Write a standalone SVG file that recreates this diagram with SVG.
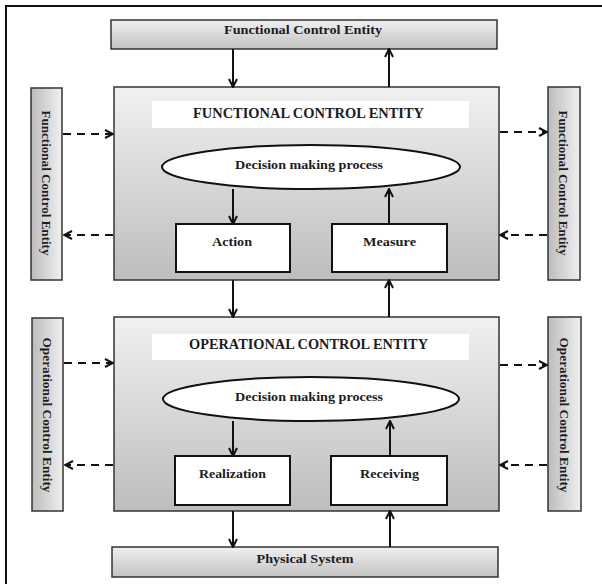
<svg xmlns="http://www.w3.org/2000/svg" width="602" height="584" viewBox="0 0 602 584">
<style>
.t{font-family:"Liberation Serif","Times New Roman",serif;font-weight:bold;fill:#1c1c24;text-anchor:middle}
.s12{font-size:13px}
.s13{font-size:14px}
.main{fill:url(#gV);stroke:#333;stroke-width:1.5}
.bar{fill:url(#gB);stroke:#333;stroke-width:1.5}
.side{fill:url(#gH);stroke:#333;stroke-width:1.5}
.wb{fill:#fff;stroke:#111;stroke-width:2}
.hdr{fill:#fff}
.c{fill:none;stroke:#111;stroke-width:2;marker-end:url(#arr)}
.d{stroke-dasharray:8 6}
</style>
<defs>
<linearGradient id="gV" x1="0" y1="0" x2="0" y2="1"><stop offset="0" stop-color="#f1f1f1"/><stop offset="1" stop-color="#bdbdbd"/></linearGradient>
<linearGradient id="gB" x1="0" y1="0" x2="0" y2="1"><stop offset="0" stop-color="#f0f0f0"/><stop offset="1" stop-color="#c2c2c2"/></linearGradient>
<linearGradient id="gH" x1="0" y1="0" x2="1" y2="0"><stop offset="0" stop-color="#bcbcbc"/><stop offset="1" stop-color="#f0f0f0"/></linearGradient>
<marker id="arr" viewBox="0 0 10 10" refX="9" refY="5" markerWidth="10" markerHeight="10" markerUnits="userSpaceOnUse" orient="auto"><path d="M1,1 L9,5 L1,9" fill="none" stroke="#111" stroke-width="2"/></marker>
</defs>
<rect width="602" height="584" fill="#fff"/>
<path d="M6,584 V6 H602" fill="none" stroke="#111" stroke-width="2"/>

<g id="top-fce">
<rect class="bar" x="111" y="20" width="386" height="29"/>
<text class="t s12" x="303" y="34" textLength="158" lengthAdjust="spacingAndGlyphs">Functional Control Entity</text>
</g>

<g id="fce-main">
<rect class="main" x="114" y="87" width="385" height="193"/>
<rect class="hdr" x="152" y="101" width="317" height="27"/>
<text class="t s13" x="308.5" y="118" textLength="231" lengthAdjust="spacingAndGlyphs">FUNCTIONAL CONTROL ENTITY</text>
</g>
<g id="fce-decision">
<ellipse class="wb" cx="311" cy="167" rx="149" ry="22"/>
<text class="t s12" x="309" y="169" textLength="148" lengthAdjust="spacingAndGlyphs">Decision making process</text>
</g>
<g id="action">
<rect class="wb" x="176" y="224" width="114" height="48"/>
<text class="t s12" x="232" y="246" textLength="40" lengthAdjust="spacingAndGlyphs">Action</text>
</g>
<g id="measure">
<rect class="wb" x="332" y="224" width="115" height="48"/>
<text class="t s12" x="389.5" y="246" textLength="53" lengthAdjust="spacingAndGlyphs">Measure</text>
</g>

<g id="left-fce">
<rect class="side" x="31" y="88" width="31" height="192"/>
<text class="t s12" transform="translate(42,183) rotate(90)" textLength="145" lengthAdjust="spacingAndGlyphs">Functional Control Entity</text>
</g>
<g id="right-fce">
<rect class="side" x="548" y="87" width="32" height="193"/>
<text class="t s12" transform="translate(559,183) rotate(90)" textLength="145" lengthAdjust="spacingAndGlyphs">Functional Control Entity</text>
</g>

<g id="oce-main">
<rect class="main" x="114" y="317" width="385" height="194"/>
<rect class="hdr" x="152" y="334" width="317" height="26"/>
<text class="t s13" x="308.5" y="349" textLength="239" lengthAdjust="spacingAndGlyphs">OPERATIONAL CONTROL ENTITY</text>
</g>
<g id="oce-decision">
<ellipse class="wb" cx="311" cy="399" rx="148" ry="22"/>
<text class="t s12" x="309" y="401" textLength="148" lengthAdjust="spacingAndGlyphs">Decision making process</text>
</g>
<g id="realization">
<rect class="wb" x="175" y="456" width="115" height="49"/>
<text class="t s12" x="232.5" y="478" textLength="67" lengthAdjust="spacingAndGlyphs">Realization</text>
</g>
<g id="receiving">
<rect class="wb" x="331" y="456" width="116" height="49"/>
<text class="t s12" x="389.5" y="478" textLength="59" lengthAdjust="spacingAndGlyphs">Receiving</text>
</g>

<g id="left-oce">
<rect class="side" x="32" y="318" width="31" height="193"/>
<text class="t s12" transform="translate(43,415) rotate(90)" textLength="155" lengthAdjust="spacingAndGlyphs">Operational Control Entity</text>
</g>
<g id="right-oce">
<rect class="side" x="548" y="317" width="33" height="194"/>
<text class="t s12" transform="translate(560,415) rotate(90)" textLength="155" lengthAdjust="spacingAndGlyphs">Operational Control Entity</text>
</g>

<g id="physical">
<rect class="bar" x="112" y="547" width="386" height="30"/>
<text class="t s12" x="305" y="563" textLength="97" lengthAdjust="spacingAndGlyphs">Physical System</text>
</g>

<g id="connectors">
<line class="c" x1="233" y1="49" x2="233" y2="87"/>
<line class="c" x1="389" y1="87" x2="389" y2="49"/>
<line class="c" x1="233" y1="189" x2="233" y2="224"/>
<line class="c" x1="389" y1="224" x2="389" y2="189"/>
<line class="c" x1="233" y1="280" x2="233" y2="317"/>
<line class="c" x1="389" y1="317" x2="389" y2="280"/>
<line class="c" x1="233" y1="421" x2="233" y2="456"/>
<line class="c" x1="390" y1="456" x2="390" y2="421"/>
<line class="c" x1="233" y1="511" x2="233" y2="547"/>
<line class="c" x1="390" y1="547" x2="390" y2="511"/>
<line class="c d" x1="63" y1="134" x2="113" y2="134"/>
<line class="c d" x1="113" y1="235" x2="64" y2="235"/>
<line class="c d" x1="500" y1="132" x2="547" y2="132"/>
<line class="c d" x1="547" y1="235" x2="500" y2="235"/>
<line class="c d" x1="64" y1="363" x2="113" y2="363"/>
<line class="c d" x1="113" y1="465" x2="65" y2="465"/>
<line class="c d" x1="500" y1="365" x2="547" y2="365"/>
<line class="c d" x1="547" y1="465" x2="500" y2="465"/>
</g>
</svg>
